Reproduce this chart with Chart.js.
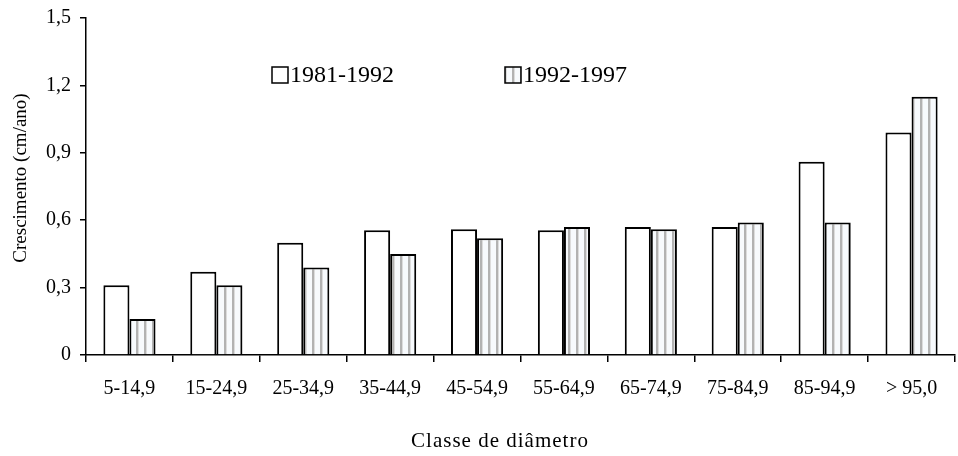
<!DOCTYPE html>
<html>
<head>
<meta charset="utf-8">
<script src="https://cdn.jsdelivr.net/npm/chart.js@4/dist/chart.umd.min.js"></script>
<style>
    html, body { margin: 0; padding: 0; background: #fff; }
    #wrap { width: 958px; height: 456px; }
</style>
</head>
<body>
<div id="wrap"><canvas id="growthChart"></canvas></div>
<script>
// Chart data
const classes = ['5-14,9', '15-24,9', '25-34,9', '35-44,9', '45-54,9', '55-64,9', '65-74,9', '75-84,9', '85-94,9', '> 95,0'];
const period1 = [0.31, 0.37, 0.50, 0.555, 0.56, 0.555, 0.57, 0.57, 0.86, 0.99];
const period2 = [0.16, 0.31, 0.39, 0.45, 0.52, 0.57, 0.56, 0.59, 0.59, 1.15];
const seriesLabels = ['1981-1992', '1992-1997'];
const yTickLabels = ['0', '0,3', '0,6', '0,9', '1,2', '1,5'];
const xTitle = 'Classe de diâmetro';
const yTitle = 'Crescimento (cm/ano)';

const serif = "'Liberation Serif', 'Times New Roman', serif";

// Vertical stripe fill for the second series
const makeStripes = () => {
    const c = document.createElement('canvas');
    c.width = 8;
    c.height = 8;
    const g = c.getContext('2d');
    g.fillStyle = '#f7fafd';
    g.fillRect(0, 0, 8, 8);
    g.fillStyle = '#b2b2b2';
    g.fillRect(0, 0, 2, 8);
    g.fillStyle = '#dcdcdc';
    g.fillRect(2, 0, 1, 8);
    return g.createPattern(c, 'repeat');
};
const stripes = makeStripes();

// Legend inside the plot area + both axis titles, placed as in the original
const extras = {
    id: 'extras',
    afterDraw(chart) {
        const ctx = chart.ctx;
        const area = chart.chartArea;
        const offsets = [186, 419];
        ctx.save();
        ctx.font = '24px ' + serif;
        ctx.textBaseline = 'middle';
        chart.data.datasets.forEach((ds, i) => {
            const x = area.left + offsets[i];
            const y = 75;
            ctx.fillStyle = ds.backgroundColor;
            ctx.fillRect(x, y - 8, 16, 16);
            ctx.lineWidth = 1.5;
            ctx.strokeStyle = '#000';
            ctx.strokeRect(x, y - 8, 16, 16);
            ctx.fillStyle = '#000';
            ctx.fillText(ds.label, x + 18, y + 1);
        });

        ctx.textAlign = 'center';
        ctx.font = '21px ' + serif;
        ctx.letterSpacing = '1px';
        ctx.fillText(xTitle, 500, 441);

        ctx.letterSpacing = '0px';
        ctx.font = '19px ' + serif;
        ctx.translate(21, 178);
        ctx.rotate(-Math.PI / 2);
        ctx.fillText(yTitle, 0, 0);
        ctx.restore();
    }
};

const ctx = document.getElementById('growthChart').getContext('2d');
const growthChart = new Chart(ctx, {
    type: 'bar',
    data: {
        labels: classes,
        datasets: [
            {
                label: seriesLabels[0],
                data: period1,
                backgroundColor: '#ffffff',
                borderColor: '#000',
                borderWidth: 2,
                borderSkipped: 'bottom'
            },
            {
                label: seriesLabels[1],
                data: period2,
                backgroundColor: stripes,
                borderColor: '#000',
                borderWidth: 2,
                borderSkipped: 'bottom'
            }
        ]
    },
    options: {
        responsive: true,
        maintainAspectRatio: false,
        animation: false,
        layout: { padding: { left: 0, right: 3, top: 18, bottom: 0 } },
        datasets: {
            bar: { categoryPercentage: 0.6, barPercentage: 1.0 }
        },
        plugins: {
            legend: { display: false },
            tooltip: { enabled: false }
        },
        scales: {
            x: {
                afterFit: (s) => { s.height = 101; },
                border: { color: '#000', width: 1.5 },
                grid: {
                    drawOnChartArea: false,
                    drawTicks: true,
                    tickLength: 7,
                    color: '#000',
                    lineWidth: 1.5,
                    offset: true
                },
                ticks: {
                    color: '#000',
                    font: { family: serif, size: 20 },
                    padding: 15,
                    maxRotation: 0
                },
                title: { display: false }
            },
            y: {
                min: 0,
                max: 1.5,
                afterFit: (s) => {
                    s.width = 86;
                    s.paddingTop = 0;
                    s.paddingBottom = 0;
                },
                border: { color: '#000', width: 1.5 },
                grid: {
                    drawOnChartArea: false,
                    drawTicks: true,
                    tickLength: 6,
                    color: '#000',
                    lineWidth: 1.5
                },
                ticks: {
                    stepSize: 0.3,
                    color: '#000',
                    font: { family: serif, size: 20 },
                    padding: 9,
                    callback: (value, index) => yTickLabels[index]
                },
                title: { display: false }
            }
        }
    },
    plugins: [extras]
});
</script>
</body>
</html>
